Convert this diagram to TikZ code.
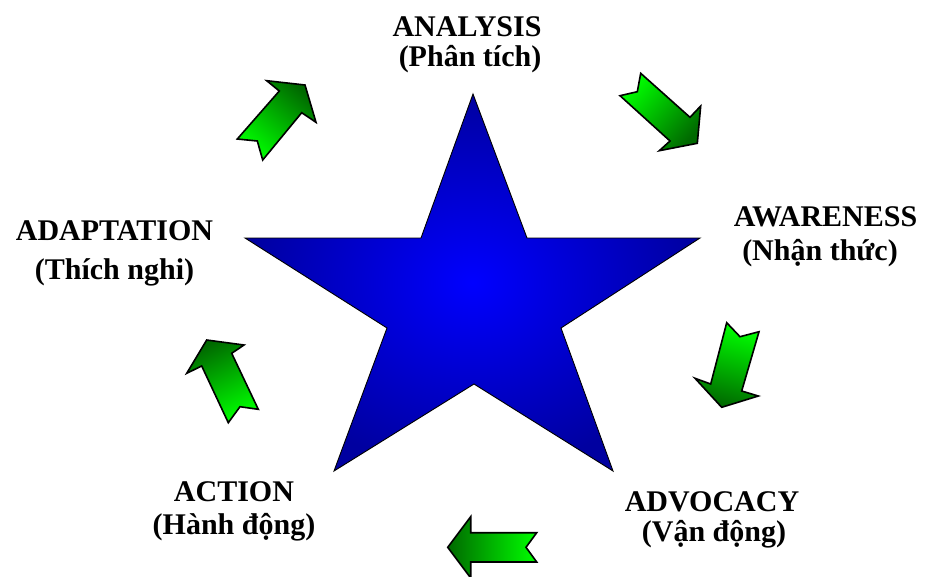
\documentclass[tikz,border=0pt]{standalone}
\usepackage{fontspec}
\setmainfont{Liberation Serif}
\definecolor{darkg}{RGB}{0,105,0}
\definecolor{brightg}{RGB}{0,255,0}
\definecolor{starin}{RGB}{0,0,255}
\definecolor{starout}{RGB}{0,0,160}
\tikzset{
  lab/.style={font=\bfseries\fontsize{30}{36}\selectfont, inner sep=0pt, anchor=base},
  garrow/.style={draw=black, line width=1.6pt, line join=miter, top color=darkg, bottom color=brightg},
  starshape/.style={draw=black, line width=0.9pt, line join=miter, inner color=starin, outer color=starout}
}
\begin{document}
\begin{tikzpicture}[x=1pt,y=-1pt]
\useasboundingbox (0,0) rectangle (925,576);
% star
\shade[starshape] (473,94) -- (527,238) -- (700,238) -- (561,328) -- (613,471) -- (474,384)
  -- (334,471) -- (387,328) -- (245,238) -- (421,238) -- cycle;
% arrows
\shade[garrow, shading angle=-40] (237.3,139) -- (279.3,91) -- (266.7,80.7) -- (305,85) -- (316,122.3)
  -- (301.7,112.7) -- (262.7,160) -- (257.3,141) -- cycle;
\shade[garrow, shading angle=-131] (640.7,73.3) -- (690,117.3) -- (700.7,106) -- (697.3,143.3)
  -- (659.3,150.7) -- (670,141) -- (620,95.7) -- (637.3,91.7) -- cycle;
\shade[garrow, shading angle=165] (726.7,322.7) -- (710.7,384) -- (695,378.3) -- (721.7,407.3)
  -- (758.3,396) -- (741.7,391) -- (759,331.7) -- (740,336.7) -- cycle;
\shade[garrow, shading angle=90] (536.7,532.7) -- (470.7,532.7) -- (470.7,516.7) -- (447.7,547.3)
  -- (470.7,578) -- (470.7,562) -- (536.7,562) -- (526,547.3) -- cycle;
\shade[garrow, shading angle=25] (206.7,340) -- (244,345) -- (231.7,353.3) -- (258.3,409.3)
  -- (240,406.7) -- (228.3,422.7) -- (201.7,366) -- (186.7,373.3) -- cycle;
% labels
\node[lab] (an1) at (467,36.7) {ANALYSIS};
\node[lab] (an2) at (470,66.7) {(Phân tích)};
\node[lab] (aw1) at (825.5,226.7) {AWARENESS};
\node[lab] (aw2) at (820,260) {(Nhận thức)};
\node[lab] (ad1) at (114.5,240) {ADAPTATION};
\node[lab] (ad2) at (114.5,279) {(Thích nghi)};
\node[lab] (ac1) at (234,501) {ACTION};
\node[lab] (ac2) at (234,534) {(Hành động)};
\node[lab] (av1) at (712,511.5) {ADVOCACY};
\node[lab] (av2) at (714,541.7) {(Vận động)};
\end{tikzpicture}
\end{document}
